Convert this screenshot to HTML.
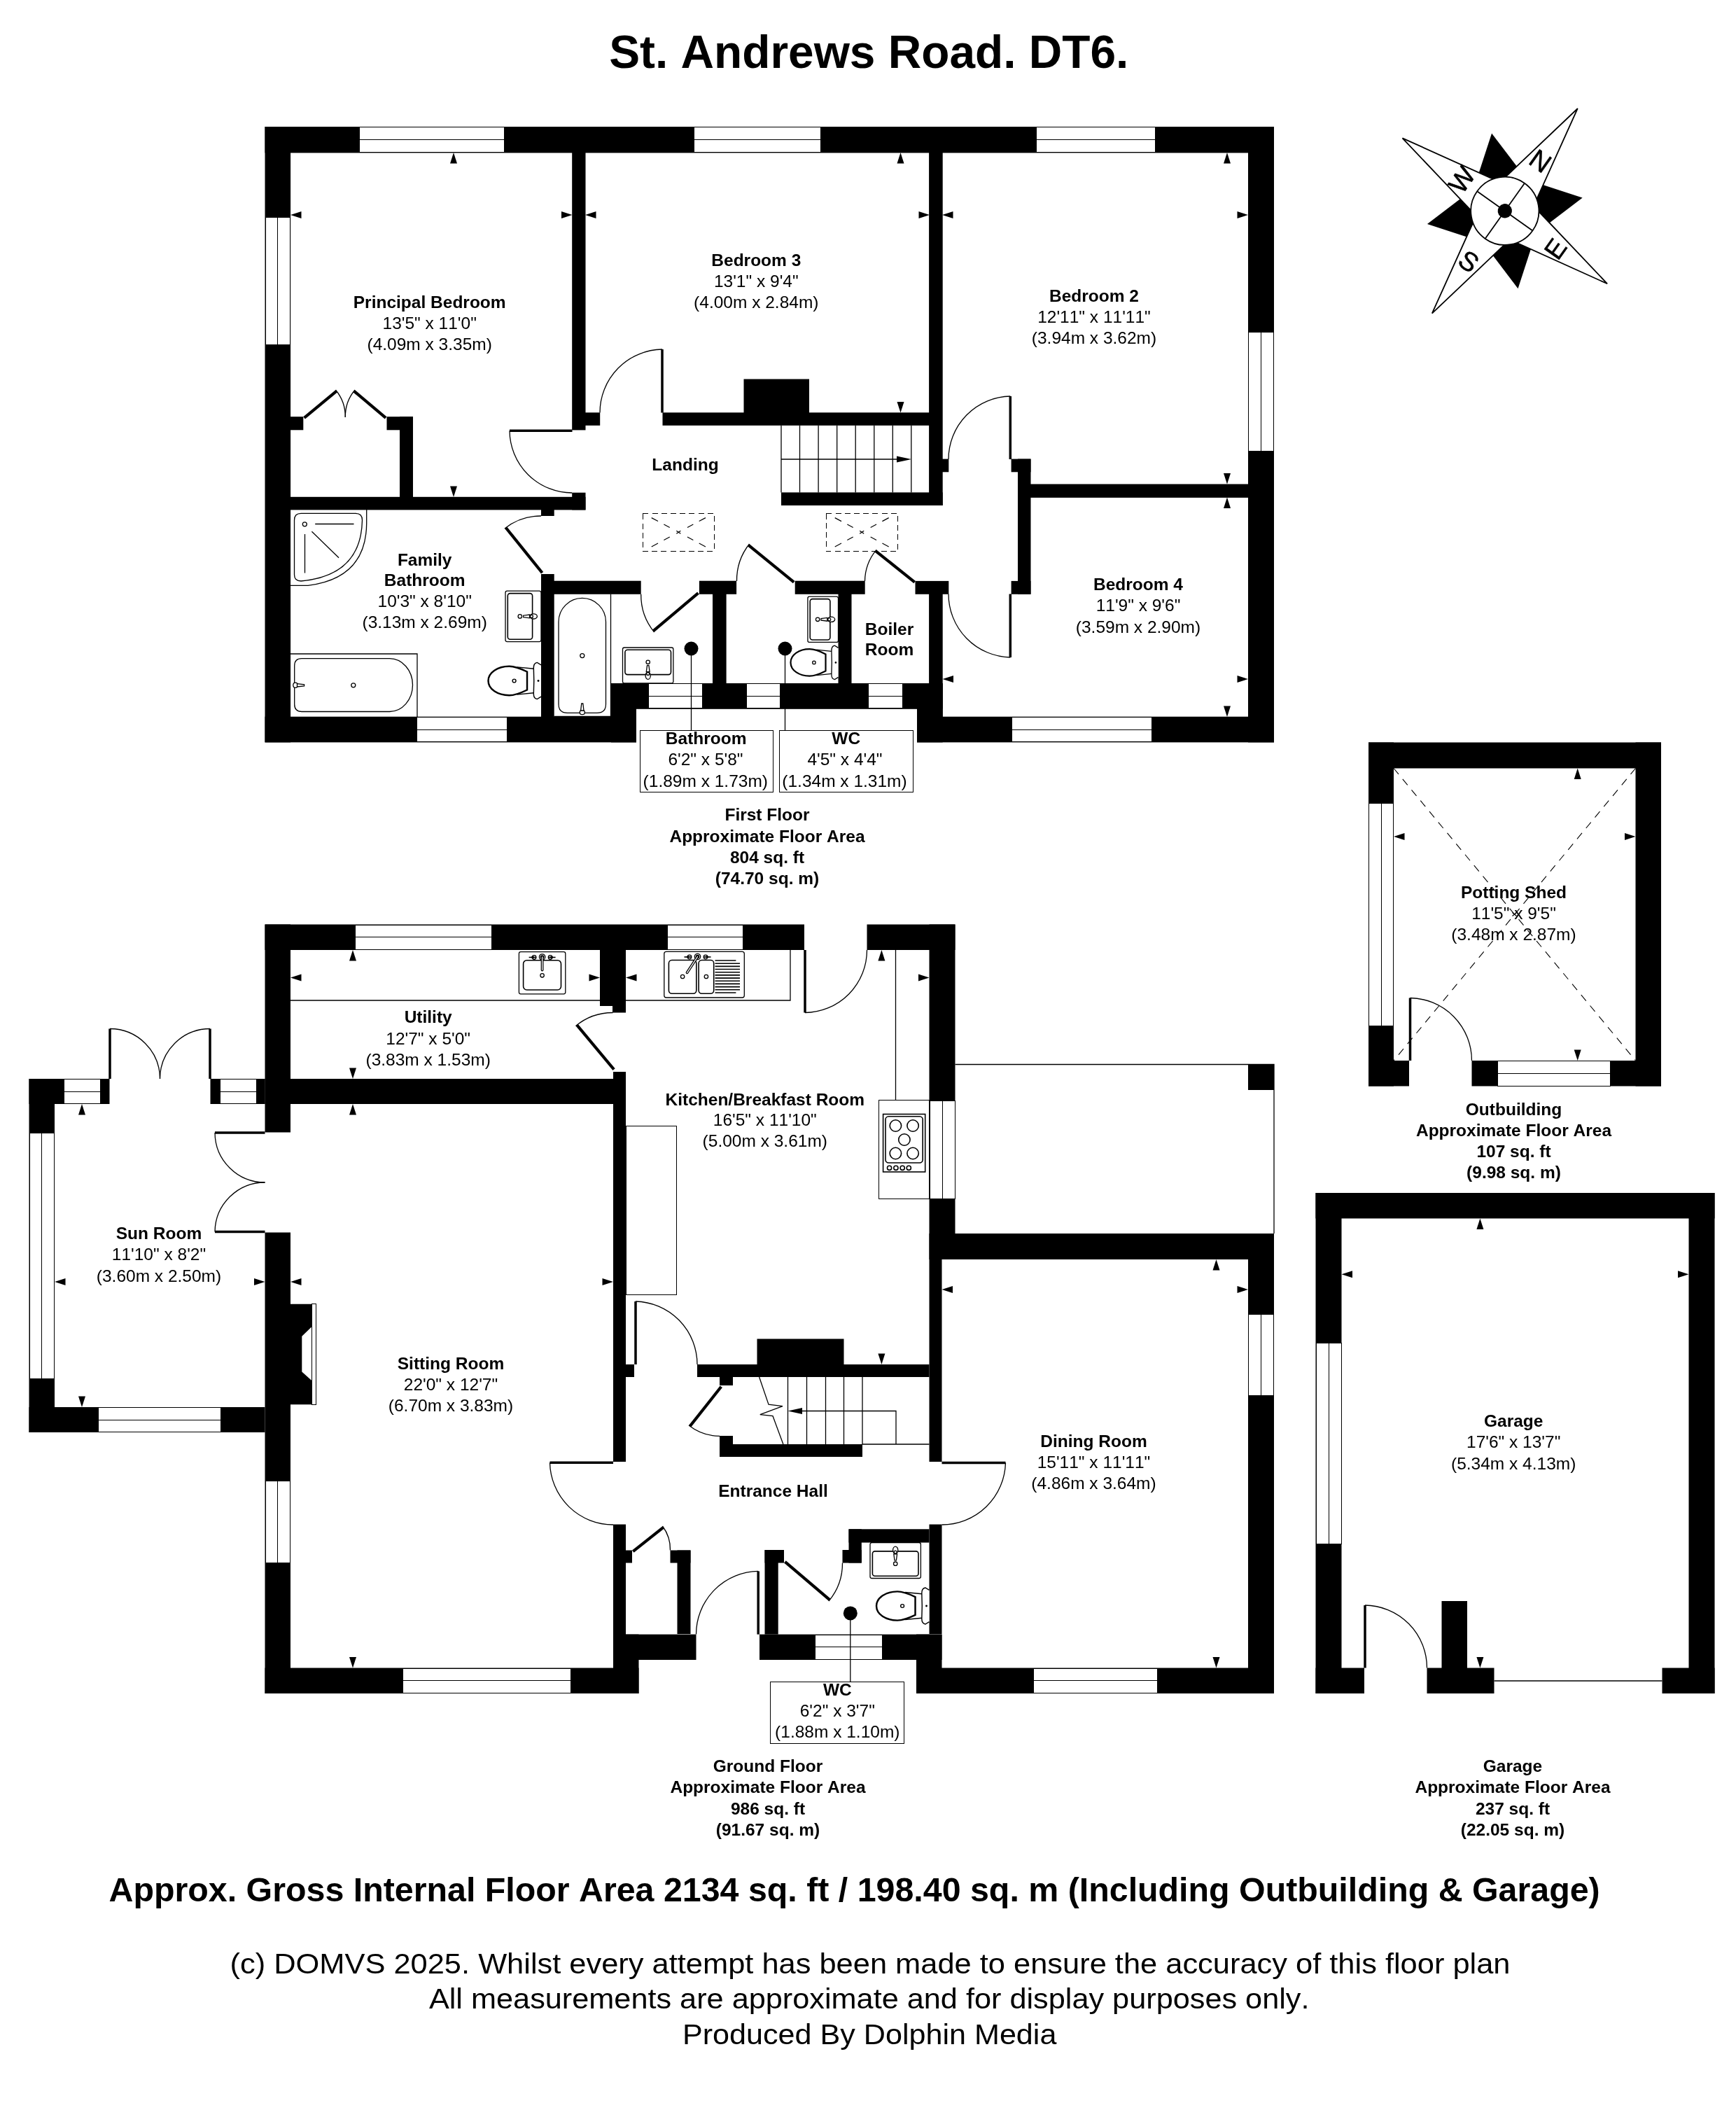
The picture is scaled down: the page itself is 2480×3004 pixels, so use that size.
<!DOCTYPE html>
<html><head><meta charset="utf-8"><title>St. Andrews Road. DT6.</title>
<style>
html,body{margin:0;padding:0;background:#fff}
svg{display:block;will-change:transform}
text{font-family:"Liberation Sans",sans-serif;text-anchor:middle;fill:#000;font-kerning:none}
.b{font-weight:bold;font-size:24.5px}
.r{font-size:24.5px}
.ti{font-weight:bold;font-size:65.8px}
.bg{font-weight:bold;font-size:48.35px}
.ft{font-size:40.5px}
.cn{font-size:38px;stroke:#000;stroke-width:0.5}
.w{fill:#fff;stroke:#000;stroke-width:1;shape-rendering:crispEdges}
.t{fill:none;stroke:#000;stroke-width:1.3}
.c{shape-rendering:crispEdges;stroke-width:1}
.l{fill:none;stroke:#000;stroke-linecap:butt}
.f{fill:#fff;stroke:#000;stroke-width:1.3}
.f2{fill:#fff;stroke:#000;stroke-width:2.2}
.f3{fill:none;stroke:#000;stroke-width:1.6}
.ds{fill:none;stroke:#000;stroke-width:1;stroke-dasharray:8 5.2;shape-rendering:crispEdges}
.dd{fill:none;stroke:#000;stroke-width:1.2;stroke-dasharray:0 14 10.5 9.5 9.5 99}
.dd2{fill:none;stroke:#000;stroke-width:1.1;stroke-dasharray:11 9}
.cp{fill:#fff;stroke:#000;stroke-width:1.8;stroke-linejoin:miter}
.cl{fill:none;stroke:#000;stroke-width:1.8}
</style></head>
<body>
<svg width="2480" height="3004" viewBox="0 0 2480 3004">
<rect x="0" y="0" width="2480" height="3004" fill="#fff"/>
<g id="ff">
<g class="k">
<rect x="378.5" y="181" width="1441.5" height="37.4"/>
<rect x="378.5" y="181" width="36.6" height="879.4"/>
<rect x="1783" y="181" width="37" height="879.4"/>
<rect x="378.5" y="1023.7" width="530.5" height="36.7"/>
<rect x="873" y="976" width="36" height="84.4"/>
<rect x="873" y="976" width="473.7" height="36.3"/>
<rect x="1310" y="976" width="36.7" height="84.4"/>
<rect x="1310" y="1023.7" width="510" height="36.7"/>
<rect x="817.2" y="218" width="19.3" height="396.4"/>
<rect x="817.2" y="703.7" width="19.3" height="24.7"/>
<rect x="836" y="589.3" width="21.2" height="18.5"/>
<rect x="946.5" y="589.3" width="399.5" height="18.5"/>
<rect x="1062.5" y="541.5" width="93.5" height="48.5"/>
<rect x="1327.1" y="218" width="19.6" height="504"/>
<rect x="1116" y="703.4" width="230.7" height="18.6"/>
<rect x="1346" y="655.6" width="9.3" height="18.7"/>
<rect x="1454" y="655.6" width="18.5" height="193.2"/>
<rect x="1444.6" y="655.6" width="27.9" height="18.7"/>
<rect x="1444.6" y="829.9" width="27.9" height="18.9"/>
<rect x="1472" y="691.5" width="311" height="19.4"/>
<rect x="415" y="709.8" width="421.5" height="18.6"/>
<rect x="773" y="728" width="18.7" height="9"/>
<rect x="415" y="595.2" width="18.3" height="19.1"/>
<rect x="552.5" y="595.2" width="37.5" height="19.1"/>
<rect x="571" y="595.2" width="19" height="114.8"/>
<rect x="773" y="820" width="18.7" height="204"/>
<rect x="773" y="829.7" width="142.7" height="19.1"/>
<rect x="998.9" y="829.7" width="53.2" height="19.1"/>
<rect x="1135.7" y="829.7" width="100.0" height="19.1"/>
<rect x="1307.5" y="829.9" width="47.8" height="18.9"/>
<rect x="1018" y="848" width="19.6" height="128"/>
<rect x="1197.5" y="848" width="19.0" height="128"/>
<rect x="1327.1" y="848" width="19.6" height="176"/>
</g>
<rect class="w" x="513.0" y="181.5" width="207.0" height="36.4"/><path class="t c" d="M512.5,199.7H720.5"/>
<rect class="w" x="991.0" y="181.5" width="181.5" height="36.4"/><path class="t c" d="M990.5,199.7H1173"/>
<rect class="w" x="1480.5" y="181.5" width="169.5" height="36.4"/><path class="t c" d="M1480,199.7H1650.5"/>
<rect class="w" x="379.0" y="310.0" width="35.6" height="182.0"/><path class="t c" d="M396.8,309.5V492.5"/>
<rect class="w" x="1783.5" y="474.5" width="36" height="169.5"/><path class="t c" d="M1801.5,474V644.5"/>
<rect class="w" x="595.5" y="1024.2" width="128.5" height="35.7"/><path class="t c" d="M595,1042.0500000000002H724.5"/>
<rect class="w" x="1445.0" y="1024.2" width="200.5" height="35.7"/><path class="t c" d="M1444.5,1042.0500000000002H1646"/>
<rect class="w" x="926.5" y="976.5" width="76.5" height="35"/><path class="t c" d="M926,994.0H1003.5"/>
<rect class="w" x="1066.5" y="976.5" width="48" height="35"/><path class="t c" d="M1066,994.0H1115"/>
<rect class="w" x="1240.0" y="976.5" width="49.5" height="35"/><path class="t c" d="M1239.5,994.0H1290"/>
<path class="t" d="M909,1012H1310"/>
<path class="t" d="M946,499A90.5,90.5 0 0 0 857,589.5"/>
<path class="l" style="stroke-width:3.5" d="M946.0,589.5L946.0,499.0"/>
<path class="t" d="M728,615.3A89.5,89.5 0 0 0 817.2,704"/>
<path class="l" style="stroke-width:3.5" d="M817.5,615.3L728.0,615.3"/>
<path class="t" d="M721,755A82.9,82.9 0 0 1 773,737"/>
<path class="l" style="stroke-width:4.2" d="M774.6,818.2L722.6,753.7"/>
<path class="t" d="M934.6,903A84.1,84.1 0 0 1 915.7,848.8"/>
<path class="l" style="stroke-width:4.2" d="M997.5,847.2L933.2,901.4"/>
<path class="t" d="M1070.5,777A83.9,83.9 0 0 0 1052.5,830"/>
<path class="l" style="stroke-width:4.2" d="M1134.2,831.6L1069.2,778.6"/>
<path class="t" d="M1252,785.3A71.7,71.7 0 0 0 1235.5,830"/>
<path class="l" style="stroke-width:4.2" d="M1306.7,831.6L1250.7,786.9"/>
<path class="t" d="M1443.3,566A90.0,90.0 0 0 0 1355,656"/>
<path class="l" style="stroke-width:3.5" d="M1443.3,656.0L1443.3,566.0"/>
<path class="t" d="M1443.3,939A90.5,90.5 0 0 1 1355,848.5"/>
<path class="l" style="stroke-width:3.5" d="M1443.3,848.5L1443.3,939.0"/>
<path class="t" d="M479.5,557A59.9,59.9 0 0 1 493.3,596"/>
<path class="l" style="stroke-width:4.2" d="M434.6,596.8L480.8,558.6"/>
<path class="t" d="M507,557A59.4,59.4 0 0 0 493.3,596"/>
<path class="l" style="stroke-width:4.2" d="M551.1,596.8L505.6,558.6"/>
<path class="t" d="M1116.0,607.5V703.5M1142.5,607.5V703.5M1169.1,607.5V703.5M1195.7,607.5V703.5M1222.2,607.5V703.5M1248.8,607.5V703.5M1275.3,607.5V703.5M1301.8,607.5V703.5M1116,656H1290"/><polygon points="1302,656 1281,651.5 1281,660.5"/>
<rect class="ds" x="918.4" y="733" width="101.9" height="54.6"/>
<path class="dd" d="M918.4,733L969.3499999999999,760.3M1020.3,733L969.3499999999999,760.3M918.4,787.6L969.3499999999999,760.3M1020.3,787.6L969.3499999999999,760.3"/>
<path class="t" d="M966.3499999999999,758.3l6,4m-6,0l6,-4"/>
<rect class="ds" x="1180.4" y="733" width="101.6" height="54.6"/>
<path class="dd" d="M1180.4,733L1231.2,760.3M1282,733L1231.2,760.3M1180.4,787.6L1231.2,760.3M1282,787.6L1231.2,760.3"/>
<path class="t" d="M1228.2,758.3l6,4m-6,0l6,-4"/>
<polygon points="648,218 643,233.5 653,233.5"/>
<polygon points="648,710 643,694.5 653,694.5"/>
<polygon points="415,307 430.5,302 430.5,312"/>
<polygon points="817.5,307 802.0,302 802.0,312"/>
<polygon points="836,307 851.5,302 851.5,312"/>
<polygon points="1328,307 1312.5,302 1312.5,312"/>
<polygon points="1286.5,218 1281.5,233.5 1291.5,233.5"/>
<polygon points="1286.5,589.5 1281.5,574.0 1291.5,574.0"/>
<polygon points="1346,307 1361.5,302 1361.5,312"/>
<polygon points="1783,307 1767.5,302 1767.5,312"/>
<polygon points="1753,218 1748,233.5 1758,233.5"/>
<polygon points="1753,691.5 1748,676.0 1758,676.0"/>
<polygon points="1753,710.5 1748,726.0 1758,726.0"/>
<polygon points="1753,1024 1748,1008.5 1758,1008.5"/>
<polygon points="1346.5,970 1362.0,965 1362.0,975"/>
<polygon points="1783,970 1767.5,965 1767.5,975"/>
<path class="f" d="M523.7,728V748Q523,826 440,836.4H415"/>
<path class="f" d="M430,733.4H508Q517.5,733.4 517.5,743Q516,822 430,830Q420.5,830 420.5,821V743Q420.5,733.4 430,733.4Z"/>
<circle class="f" cx="435.3" cy="748.8" r="3"/><path class="t" d="M450.2,748.5H505.5M435.5,763V818.6M445.4,759.2L484,796.7"/>
<g transform="translate(773,880.4) rotate(180)"><rect class="f" x="0" y="-36.2" width="51" height="72.4" rx="2.5"/><rect class="f3" x="12.4" y="-32.8" width="35.3" height="65.6" rx="3.5"/><circle class="f" cx="30.200000000000003" cy="0" r="2.7"/><path class="f" d="M25.4,-1.2L16.4,-2.4V2.4L25.4,1.2Z"/><ellipse class="f" cx="10.8" cy="0" rx="5.2" ry="3.6"/><circle class="f" cx="13.6" cy="0" r="2"/></g>
<path class="t" d="M415,934H596V1024"/>
<path class="f" d="M431,940.7H556.5A33,37.9 0 0 1 556.5,1016.5H431Q420.7,1016.5 420.7,1006V951Q420.7,940.7 431,940.7Z"/>
<circle class="f" cx="504.8" cy="978.8" r="3"/><ellipse class="f" cx="422" cy="978.8" rx="3.2" ry="3.6"/><path class="f" d="M424.5,976.6L434.6,977.8V979.8L424.5,981Z"/>
<g transform="translate(773,972.5) rotate(180) scale(1.11,1.08)"><path class="f" d="M0,-21L5,-24.2Q10,-23.5 9.6,-16L9.2,0L9.6,16Q10,23.5 5,24.2L0,21"/><path class="t" d="M9.6,-16L31,-18.2M9.6,16L31,18.2"/><path class="f2" d="M18,-12C28,-17 34,-19.2 41,-19.2C56,-19.2 68,-11 68,0C68,11 56,19.2 41,19.2C34,19.2 28,17 18,12Z"/><circle class="f" cx="34.6" cy="0" r="2.2"/><circle cx="3.6" cy="0" r="1.3"/></g>
<path class="t" d="M872.5,848.5V1023.5H791.5"/>
<path class="f" d="M798,888.2A33.75,33.75 0 0 1 865.5,888.2V1006Q865.5,1018.3 853,1018.3H810.5Q798,1018.3 798,1006Z"/>
<circle class="f" cx="831.8" cy="936.6" r="3"/><ellipse class="f" cx="831.8" cy="1017.5" rx="3.6" ry="3.2"/><path class="f" d="M829.6,1015L830.8,1005H832.8L834,1015Z"/>
<g transform="translate(925.7,976) rotate(-90)"><rect class="f" x="0" y="-36.2" width="51" height="72.4" rx="2.5"/><rect class="f3" x="12.4" y="-32.8" width="35.3" height="65.6" rx="3.5"/><circle class="f" cx="30.200000000000003" cy="0" r="2.7"/><path class="f" d="M25.4,-1.2L16.4,-2.4V2.4L25.4,1.2Z"/><ellipse class="f" cx="10.8" cy="0" rx="5.2" ry="3.6"/><circle class="f" cx="13.6" cy="0" r="2"/></g>
<g transform="translate(1197.5,884.8) rotate(180)"><rect class="f" x="0" y="-32.6" width="43.6" height="65.2" rx="2.5"/><rect class="f3" x="11.6" y="-29.2" width="28.7" height="58.4" rx="3.5"/><circle class="f" cx="29.4" cy="0" r="2.7"/><path class="f" d="M24.6,-1.2L15.6,-2.4V2.4L24.6,1.2Z"/><ellipse class="f" cx="10.0" cy="0" rx="5.2" ry="3.6"/><circle class="f" cx="12.799999999999999" cy="0" r="2"/></g>
<g transform="translate(1197.5,946.4) rotate(180) scale(1)"><path class="f" d="M0,-21L5,-24.2Q10,-23.5 9.6,-16L9.2,0L9.6,16Q10,23.5 5,24.2L0,21"/><path class="t" d="M9.6,-16L31,-18.2M9.6,16L31,18.2"/><path class="f2" d="M18,-12C28,-17 34,-19.2 41,-19.2C56,-19.2 68,-11 68,0C68,11 56,19.2 41,19.2C34,19.2 28,17 18,12Z"/><circle class="f" cx="34.6" cy="0" r="2.2"/><circle cx="3.6" cy="0" r="1.3"/></g>
<circle cx="987.5" cy="926.5" r="10"/><circle cx="1121.5" cy="926.5" r="10"/>
<path class="t" d="M987.5,926.5V1043M1121.5,926.5V976M1121.5,1012V1043"/>
<rect class="w" x="914" y="1043" width="190.5" height="88"/><rect class="w" x="1113.5" y="1043" width="190.5" height="88"/>
<text class="b" x="613.7" y="439.6">Principal Bedroom</text>
<text class="r" x="613.7" y="469.7">13'5" x 11'0"</text>
<text class="r" x="613.7" y="499.6">(4.09m x 3.35m)</text>
<text class="b" x="1080.3" y="380">Bedroom 3</text>
<text class="r" x="1080.3" y="410">13'1" x 9'4"</text>
<text class="r" x="1080.3" y="440">(4.00m x 2.84m)</text>
<text class="b" x="1563" y="430.6">Bedroom 2</text>
<text class="r" x="1563" y="461">12'11" x 11'11"</text>
<text class="r" x="1563" y="491">(3.94m x 3.62m)</text>
<text class="b" x="1626" y="843.3">Bedroom 4</text>
<text class="r" x="1626" y="873.3">11'9" x 9'6"</text>
<text class="r" x="1626" y="904">(3.59m x 2.90m)</text>
<text class="b" x="979" y="672.1">Landing</text>
<text class="b" x="606.7" y="807.8">Family</text>
<text class="b" x="606.7" y="837.3">Bathroom</text>
<text class="r" x="606.7" y="867.2">10'3" x 8'10"</text>
<text class="r" x="606.7" y="897.4">(3.13m x 2.69m)</text>
<text class="b" x="1270.5" y="906.5">Boiler</text>
<text class="b" x="1270.5" y="936.4">Room</text>
<text class="b" x="1008.7" y="1063.3">Bathroom</text>
<text class="r" x="1008" y="1093.3">6'2" x 5'8"</text>
<text class="r" x="1007.8" y="1124.2">(1.89m x 1.73m)</text>
<text class="b" x="1208.7" y="1063.3">WC</text>
<text class="r" x="1207" y="1093.3">4'5" x 4'4"</text>
<text class="r" x="1206.5" y="1124.2">(1.34m x 1.31m)</text>
<text class="b" x="1096" y="1172.4">First Floor</text>
<text class="b" x="1096" y="1202.6">Approximate Floor Area</text>
<text class="b" x="1096" y="1232.8">804 sq. ft</text>
<text class="b" x="1096" y="1263">(74.70 sq. m)</text>
</g>
<g id="gf">
<g class="k">
<rect x="378.5" y="1320.5" width="770.5" height="36.5"/>
<rect x="1238.5" y="1320.5" width="126.0" height="36.5"/>
<rect x="378.5" y="1320.5" width="36.5" height="297.0"/>
<rect x="378.5" y="1760.5" width="36.5" height="658.5"/>
<rect x="378.5" y="1541" width="497.5" height="36"/>
<rect x="41.5" y="1541" width="115.0" height="36"/>
<rect x="300.5" y="1541" width="78.0" height="36"/>
<rect x="41.5" y="1541" width="36.5" height="505"/>
<rect x="41.5" y="2010" width="337.0" height="36"/>
<rect x="378.5" y="2382.5" width="534.0" height="36.5"/>
<rect x="876" y="1531" width="18" height="557"/>
<rect x="876" y="2177.5" width="18" height="241.5"/>
<rect x="857" y="1357" width="19" height="80"/>
<rect x="875" y="1357" width="19" height="89.5"/>
<rect x="876" y="2334.6" width="118.5" height="36.4"/>
<rect x="876" y="2334.6" width="36.5" height="84.4"/>
<rect x="1085" y="2334.6" width="260.5" height="36.4"/>
<rect x="1309" y="2334.6" width="36.5" height="84.4"/>
<rect x="1309" y="2382.5" width="511" height="36.5"/>
<rect x="1783" y="1762" width="37" height="657"/>
<rect x="1327.5" y="1762" width="492.5" height="37"/>
<rect x="1327.5" y="1320.5" width="37.0" height="478.5"/>
<rect x="1327.5" y="1799" width="18.0" height="289"/>
<rect x="1327.5" y="2177.5" width="18.0" height="156.5"/>
<rect x="996" y="1949" width="331.5" height="18"/>
<rect x="1081.5" y="1912.5" width="124.0" height="36.5"/>
<rect x="894" y="1949" width="12" height="18"/>
<rect x="1028" y="1967" width="19" height="12"/>
<rect x="1028" y="2051" width="19" height="12"/>
<rect x="1028" y="2063" width="204" height="18"/>
<rect x="894" y="2214.5" width="9" height="18.0"/>
<rect x="957.5" y="2214.5" width="29.0" height="18.0"/>
<rect x="967.5" y="2214.5" width="19.0" height="119.5"/>
<rect x="1092.5" y="2214" width="19.2" height="120.6"/>
<rect x="1092.5" y="2214" width="27.5" height="18.5"/>
<rect x="1212.5" y="2184.3" width="115.0" height="19.2"/>
<rect x="1212.5" y="2184.3" width="18.3" height="48.2"/>
<rect x="1203.5" y="2214" width="27.3" height="18.5"/>
<rect x="1783" y="1520.5" width="37" height="36.5"/>
</g>
<path class="t" d="M1364.5,1520.5H1820V1762"/>
<rect class="w" x="507.0" y="1321.0" width="195.0" height="35.5"/><path class="t c" d="M506.5,1338.75H702.5"/>
<rect class="w" x="953.0" y="1321.0" width="108.5" height="35.5"/><path class="t c" d="M952.5,1338.75H1062"/>
<rect class="w" x="1328.0" y="1572.0" width="36.0" height="140.0"/><path class="t c" d="M1346.0,1571.5V1712.5"/>
<rect class="w" x="91.5" y="1541.5" width="52" height="35"/><path class="t c" d="M91,1559.0H144"/>
<rect class="w" x="314.0" y="1541.5" width="52.5" height="35"/><path class="t c" d="M313.5,1559.0H367"/>
<rect class="w" x="42.0" y="1618.5" width="35.5" height="350.5"/><path class="t c" d="M59.75,1618V1969.5"/>
<rect class="w" x="140.5" y="2010.5" width="175" height="35"/><path class="t c" d="M140,2028.0H316"/>
<rect class="w" x="379.0" y="2115.5" width="35.5" height="117"/><path class="t c" d="M396.75,2115V2233"/>
<rect class="w" x="575.0" y="2383.0" width="240.5" height="35.5"/><path class="t c" d="M574.5,2400.75H816"/>
<rect class="w" x="1164.0" y="2335.1" width="96.5" height="35.4"/><path class="t c" d="M1163.5,2352.8H1261"/>
<rect class="w" x="1476.0" y="2383.0" width="177.5" height="35.5"/><path class="t c" d="M1475.5,2400.75H1654"/>
<rect class="w" x="1783.5" y="1877.5" width="36" height="115.5"/><path class="t c" d="M1801.5,1877V1993.5"/>
<path class="t" d="M157,1469.5A71.5,71.5 0 0 1 228.5,1541"/>
<path class="l" style="stroke-width:3.5" d="M157.0,1541.0L157.0,1469.5"/>
<path class="t" d="M300,1469.5A71.5,71.5 0 0 0 228.5,1541"/>
<path class="l" style="stroke-width:3.5" d="M300.0,1541.0L300.0,1469.5"/>
<path class="t" d="M307,1618A71.5,71.5 0 0 0 378.5,1689"/>
<path class="l" style="stroke-width:3.5" d="M378.5,1618.0L307.0,1618.0"/>
<path class="t" d="M307,1759.5A71.5,71.5 0 0 1 378.5,1689"/>
<path class="l" style="stroke-width:3.5" d="M378.5,1759.5L307.0,1759.5"/>
<path class="t" d="M822.5,1465.5A82.7,82.7 0 0 1 875.5,1446.5"/>
<path class="l" style="stroke-width:4.2" d="M877.1,1527.7L824.1,1464.2"/>
<path class="t" d="M1150,1446.5A89.5,89.5 0 0 0 1238.5,1357"/>
<path class="l" style="stroke-width:3.5" d="M1150.0,1357.0L1150.0,1446.5"/>
<path class="t" d="M908,1859A90.0,90.0 0 0 1 996,1949"/>
<path class="l" style="stroke-width:3.5" d="M908.0,1949.0L908.0,1859.0"/>
<path class="t" d="M785.5,2089.3A90.5,90.5 0 0 0 876,2178"/>
<path class="l" style="stroke-width:3.5" d="M876.0,2089.3L785.5,2089.3"/>
<path class="t" d="M1436.5,2089.5A91.0,91.0 0 0 1 1345.5,2178"/>
<path class="l" style="stroke-width:3.5" d="M1345.5,2089.5L1436.5,2089.5"/>
<path class="t" d="M984,2036A72.1,72.1 0 0 0 1028,2051.4"/>
<path class="l" style="stroke-width:4.2" d="M1030.3,1980.7L985.6,2037.3"/>
<path class="t" d="M946.5,2180A55.5,55.5 0 0 1 957.5,2214.5"/>
<path class="l" style="stroke-width:4.2" d="M904.3,2216.1L947.8,2181.6"/>
<path class="t" d="M1184,2287A84.1,84.1 0 0 0 1203.5,2232.5"/>
<path class="l" style="stroke-width:4.2" d="M1121.4,2230.9L1185.4,2285.4"/>
<path class="t" d="M1083.2,2244.4A90.2,90.2 0 0 0 994.5,2334.6"/>
<path class="l" style="stroke-width:3.5" d="M1083.2,2334.6L1083.2,2244.4"/>
<path class="t" d="M1125.5,1967V2063M1152.5,1967V2063M1179.5,1967V2063M1205.5,1967V2063M1232,1967V2063M1140,2015.5H1280V2063M1232,2063H1327.5M1084.6,1967L1098,2006.2L1118,2008.6L1085.8,2020.7L1104,2022.7L1118.9,2063"/><polygon points="1125.5,2015.5 1146,2011 1146,2020"/>
<path class="t" d="M415,1429H857M894,1429H1129V1357M1279.5,1357V1571.5"/>
<rect class="w" x="1255.5" y="1571.5" width="72" height="141"/><rect class="w" x="894" y="1608.5" width="72" height="240.5"/>
<rect class="f3" x="1261.6" y="1591.5" width="60.1" height="82.5"/><rect class="f3" x="1265" y="1594.8" width="53.2" height="66.2" rx="4.5"/>
<circle class="f3" cx="1279.4" cy="1608" r="8.2"/>
<circle class="f3" cx="1304.1" cy="1608" r="8.2"/>
<circle class="f3" cx="1291.9" cy="1628" r="8.2"/>
<circle class="f3" cx="1279.4" cy="1647.5" r="8.2"/>
<circle class="f3" cx="1304.1" cy="1647.5" r="8.2"/>
<circle class="f3" cx="1270.6" cy="1668.3" r="3.1"/>
<circle class="f3" cx="1279.9" cy="1668.3" r="3.1"/>
<circle class="f3" cx="1289.2" cy="1668.3" r="3.1"/>
<circle class="f3" cx="1298.3" cy="1668.3" r="3.1"/>
<rect class="f" x="741.4" y="1359.7" width="66.4" height="60.1" rx="2.5"/><rect class="f3" x="747.6" y="1371.7" width="53.9" height="42.3" rx="5"/>
<circle class="f" cx="774.6" cy="1393.3" r="2.7"/>
<circle class="f" cx="774.6" cy="1367" r="4.2"/><circle class="f" cx="774.6" cy="1367" r="2.2"/>
<circle class="f" cx="763.1" cy="1367.5" r="2.8"/><path class="f3" d="M766.1,1367.5H755.6"/><ellipse cx="761.1" cy="1367.5" rx="2.2" ry="1.4"/>
<circle class="f" cx="786.1" cy="1367.5" r="2.8"/><path class="f3" d="M783.1,1367.5H793.6"/><ellipse cx="788.1" cy="1367.5" rx="2.2" ry="1.4"/>
<path class="l" style="stroke-width:3.8;stroke-linecap:round" d="M774.6,1367V1385.5"/><path style="stroke:#fff;stroke-width:1.3;stroke-linecap:round" d="M774.6,1367V1385.5"/>
<rect class="f" x="948.8" y="1359.3" width="114.5" height="65.7" rx="3"/>
<rect class="f3" x="955.4" y="1371.5" width="39.4" height="47.7" rx="4.5"/><rect class="f3" x="998.1" y="1371.5" width="21.6" height="47.7" rx="4.5"/>
<path class="f3" d="M1021.5,1372.0H1051.4M1021.5,1376.2H1057M1021.5,1380.4H1057M1021.5,1384.5H1057M1021.5,1388.7H1057M1021.5,1392.9H1057M1021.5,1397.1H1057M1021.5,1401.3H1057M1021.5,1405.4H1057M1021.5,1409.6H1057M1021.5,1413.8H1057M1021.5,1418.0H1051.4"/>
<circle class="f" cx="975.1" cy="1395" r="2.7"/><circle class="f" cx="1008.9" cy="1395" r="2.7"/>
<circle class="f" cx="996.5" cy="1366.5" r="4.2"/><circle class="f" cx="996.5" cy="1366.5" r="2.2"/>
<circle class="f" cx="985.0" cy="1367.0" r="2.8"/><path class="f3" d="M988.0,1367.0H977.5"/><ellipse cx="983.0" cy="1367.0" rx="2.2" ry="1.4"/>
<circle class="f" cx="1008.0" cy="1367.0" r="2.8"/><path class="f3" d="M1005.0,1367.0H1015.5"/><ellipse cx="1010.0" cy="1367.0" rx="2.2" ry="1.4"/>
<path class="l" style="stroke-width:3.9;stroke-linecap:round" d="M996.5,1366.5L981.6,1389.3"/><path style="stroke:#fff;stroke-width:1.3;stroke-linecap:round" d="M996.5,1366.5L981.6,1389.3"/>
<g transform="translate(1279.2,2203.5) rotate(90)"><rect class="f" x="0" y="-36.2" width="51" height="72.4" rx="2.5"/><rect class="f3" x="12.4" y="-32.8" width="35.3" height="65.6" rx="3.5"/><circle class="f" cx="30.200000000000003" cy="0" r="2.7"/><path class="f" d="M25.4,-1.2L16.4,-2.4V2.4L25.4,1.2Z"/><ellipse class="f" cx="10.8" cy="0" rx="5.2" ry="3.6"/><circle class="f" cx="13.6" cy="0" r="2"/></g>
<g transform="translate(1327.5,2294) rotate(180) scale(1.11,1.075)"><path class="f" d="M0,-21L5,-24.2Q10,-23.5 9.6,-16L9.2,0L9.6,16Q10,23.5 5,24.2L0,21"/><path class="t" d="M9.6,-16L31,-18.2M9.6,16L31,18.2"/><path class="f2" d="M18,-12C28,-17 34,-19.2 41,-19.2C56,-19.2 68,-11 68,0C68,11 56,19.2 41,19.2C34,19.2 28,17 18,12Z"/><circle class="f" cx="34.6" cy="0" r="2.2"/><circle cx="3.6" cy="0" r="1.3"/></g>
<circle cx="1214.8" cy="2304.4" r="10"/><path class="t" d="M1214.8,2304V2402"/>
<rect class="w" x="1100.7" y="2402" width="190.8" height="88.5"/>
<path d="M415,1862.7H445.8V1894.8L431.3,1908.8V1959.6L445.8,1972.6V2006.3H415Z"/><rect class="w" x="445.8" y="1862.7" width="5.2" height="143.6"/>
<polygon points="117,1577 112,1592.5 122,1592.5"/>
<polygon points="117,2010 112,1994.5 122,1994.5"/>
<polygon points="78,1831 93.5,1826 93.5,1836"/>
<polygon points="378.5,1831 363.0,1826 363.0,1836"/>
<polygon points="415,1831 430.5,1826 430.5,1836"/>
<polygon points="876,1831 860.5,1826 860.5,1836"/>
<polygon points="504,1357 499,1372.5 509,1372.5"/>
<polygon points="504,1541 499,1525.5 509,1525.5"/>
<polygon points="415,1396.6 430.5,1391.6 430.5,1401.6"/>
<polygon points="857,1396.6 841.5,1391.6 841.5,1401.6"/>
<polygon points="504,1577 499,1592.5 509,1592.5"/>
<polygon points="504,2382.5 499,2367.0 509,2367.0"/>
<polygon points="894,1396.6 909.5,1391.6 909.5,1401.6"/>
<polygon points="1327.5,1396.6 1312.0,1391.6 1312.0,1401.6"/>
<polygon points="1259.4,1357 1254.4,1372.5 1264.4,1372.5"/>
<polygon points="1259.4,1949 1254.4,1933.5 1264.4,1933.5"/>
<polygon points="1737.5,1799 1732.5,1814.5 1742.5,1814.5"/>
<polygon points="1737.5,2382.5 1732.5,2367.0 1742.5,2367.0"/>
<polygon points="1345.5,1842 1361.0,1837 1361.0,1847"/>
<polygon points="1783,1842 1767.5,1837 1767.5,1847"/>
<text class="b" x="611.7" y="1461.4">Utility</text>
<text class="r" x="611.7" y="1491.5">12'7" x 5'0"</text>
<text class="r" x="611.7" y="1522">(3.83m x 1.53m)</text>
<text class="b" x="227" y="1770">Sun Room</text>
<text class="r" x="227" y="1800">11'10" x 8'2"</text>
<text class="r" x="227" y="1830.5">(3.60m x 2.50m)</text>
<text class="b" x="644" y="1956.0">Sitting Room</text>
<text class="r" x="644" y="1986.1">22'0" x 12'7"</text>
<text class="r" x="644" y="2016.1">(6.70m x 3.83m)</text>
<text class="b" x="1092.8" y="1578.6">Kitchen/Breakfast Room</text>
<text class="r" x="1092.8" y="1607.9">16'5" x 11'10"</text>
<text class="r" x="1092.8" y="1637.7">(5.00m x 3.61m)</text>
<text class="b" x="1104.5" y="2138.2">Entrance Hall</text>
<text class="b" x="1562.5" y="2066.8">Dining Room</text>
<text class="r" x="1562.5" y="2097.3">15'11" x 11'11"</text>
<text class="r" x="1562.5" y="2127.3">(4.86m x 3.64m)</text>
<text class="b" x="1196.3" y="2421.8">WC</text>
<text class="r" x="1196.3" y="2452.2">6'2" x 3'7"</text>
<text class="r" x="1196.3" y="2481.6">(1.88m x 1.10m)</text>
<text class="b" x="1097" y="2531.0">Ground Floor</text>
<text class="b" x="1097" y="2561.3">Approximate Floor Area</text>
<text class="b" x="1097" y="2591.5">986 sq. ft</text>
<text class="b" x="1097" y="2621.8">(91.67 sq. m)</text>
</g>
<g id="shed">
<g class="k">
<rect x="1955" y="1060.5" width="418" height="37.0"/>
<rect x="1955" y="1060.5" width="36" height="491.0"/>
<rect x="2336.5" y="1060.5" width="36.5" height="491.0"/>
<rect x="1955" y="1515" width="58" height="36.5"/>
<rect x="2102.5" y="1515" width="270.5" height="36.5"/>
</g>
<rect class="w" x="1955.5" y="1147.5" width="35" height="317.5"/><path class="t c" d="M1973.0,1147V1465.5"/>
<rect class="w" x="2139.5" y="1515.5" width="160.5" height="35.5"/><path class="t c" d="M2139,1533.25H2300.5"/>
<path class="dd2" d="M1991,1097.5L2336.5,1515M2336.5,1097.5L1991,1515"/>
<path class="t" d="M2160.5,1303.5l6,5m-6,0l6,-5"/>
<path class="t" d="M2014.5,1425.5A89.5,89.5 0 0 1 2102.5,1515"/>
<path class="l" style="stroke-width:3.5" d="M2014.5,1515.0L2014.5,1425.5"/>
<polygon points="2253.7,1097.5 2248.7,1113.0 2258.7,1113.0"/>
<polygon points="2253.7,1515 2248.7,1499.5 2258.7,1499.5"/>
<polygon points="1991,1195 2006.5,1190 2006.5,1200"/>
<polygon points="2336.5,1195 2321.0,1190 2321.0,1200"/>
<text class="b" x="2162.5" y="1282.8">Potting Shed</text>
<text class="r" x="2162.5" y="1313.0">11'5" x 9'5"</text>
<text class="r" x="2162.5" y="1342.7">(3.48m x 2.87m)</text>
<text class="b" x="2162.5" y="1592.9">Outbuilding</text>
<text class="b" x="2162.5" y="1623.0">Approximate Floor Area</text>
<text class="b" x="2162.5" y="1652.9">107 sq. ft</text>
<text class="b" x="2162.5" y="1683.1">(9.98 sq. m)</text>
</g>
<g id="garage">
<g class="k">
<rect x="1879.5" y="1704" width="570.0" height="36.5"/>
<rect x="1879.5" y="1704" width="37.0" height="715"/>
<rect x="2412.5" y="1704" width="37.0" height="715"/>
<rect x="1879.5" y="2382.5" width="69.5" height="36.5"/>
<rect x="2038.5" y="2382.5" width="96.0" height="36.5"/>
<rect x="2374.5" y="2382.5" width="75.0" height="36.5"/>
<rect x="2059.5" y="2287" width="36.5" height="96"/>
</g>
<rect class="w" x="1880.0" y="1918.0" width="36.0" height="287.5"/><path class="t c" d="M1898.0,1917.5V2206"/>
<path class="t" d="M2134.5,2401H2374.5"/>
<path class="t" d="M1950,2293A89.5,89.5 0 0 1 2038.5,2382.5"/>
<path class="l" style="stroke-width:3.5" d="M1950.0,2382.5L1950.0,2293.0"/>
<polygon points="2114.4,1740.5 2109.4,1756.0 2119.4,1756.0"/>
<polygon points="2114.4,2382.5 2109.4,2367.0 2119.4,2367.0"/>
<polygon points="1916.5,1820.2 1932.0,1815.2 1932.0,1825.2"/>
<polygon points="2412.5,1820.2 2397.0,1815.2 2397.0,1825.2"/>
<text class="b" x="2162.2" y="2038.0">Garage</text>
<text class="r" x="2162.2" y="2068.4">17'6" x 13'7"</text>
<text class="r" x="2162.2" y="2099.2">(5.34m x 4.13m)</text>
<text class="b" x="2161" y="2531.0">Garage</text>
<text class="b" x="2161" y="2561.3">Approximate Floor Area</text>
<text class="b" x="2161" y="2591.5">237 sq. ft</text>
<text class="b" x="2161" y="2621.8">(22.05 sq. m)</text>
</g>
<g id="compass" transform="translate(2149.8,301.3) rotate(35.4)">
<polygon points="79.5,-79.5 12.6,-58.6 0,0 58.6,-12.6"/>
<polygon points="79.5,79.5 58.6,12.6 0,0 12.6,58.6"/>
<polygon points="-79.5,79.5 -12.6,58.6 0,0 -58.6,12.6"/>
<polygon points="-79.5,-79.5 -58.6,-12.6 0,0 -12.6,-58.6"/>
<polygon class="cp" points="0.0,-179.5 -27.2,-40.8 0,0 27.2,-40.8"/>
<polygon class="cp" points="179.5,-0.0 40.8,-27.2 0,0 40.8,27.2"/>
<polygon class="cp" points="0.0,179.5 27.2,40.8 0,0 -27.2,40.8"/>
<polygon class="cp" points="-179.5,0.0 -40.8,27.2 0,0 -40.8,-27.2"/>
<circle class="cp" cx="0" cy="0" r="48.6"/>
<path class="cl" d="M0,-48.6V48.6M-48.6,0H48.6"/><circle cx="0" cy="0" r="10.2"/>
</g>
<text class="cn" transform="translate(2200.8,229.5) rotate(35.4)" x="0" y="13.6">N</text>
<text class="cn" transform="translate(2098.4,372.9) rotate(35.4)" x="0" y="13.6">S</text>
<text class="cn" transform="translate(2088.0,256.5) rotate(-54.6)" x="0" y="13.6">W</text>
<text class="cn" transform="translate(2221.8,355.3) rotate(-54.6)" x="0" y="13.6">E</text>
<text class="ti" x="1241.3" y="97">St. Andrews Road. DT6.</text>
<text class="bg" x="1220.6" y="2716">Approx. Gross Internal Floor Area 2134 sq. ft / 198.40 sq. m (Including Outbuilding &amp; Garage)</text>
<text class="ft" x="1243" y="2818.6" textLength="1829" lengthAdjust="spacingAndGlyphs">(c) DOMVS 2025. Whilst every attempt has been made to ensure the accuracy of this floor plan</text>
<text class="ft" x="1241.7" y="2868.6" textLength="1257.6" lengthAdjust="spacingAndGlyphs">All measurements are approximate and for display purposes only.</text>
<text class="ft" x="1242.2" y="2920" textLength="534.4" lengthAdjust="spacingAndGlyphs">Produced By Dolphin Media</text>

</svg>
</body></html>
